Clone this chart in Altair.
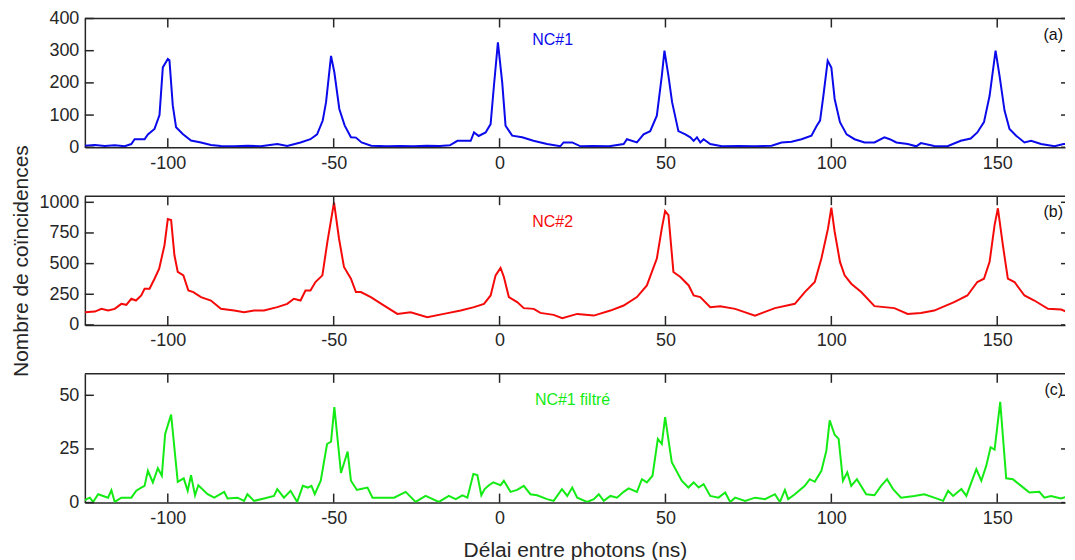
import altair as alt
import pandas as pd

# ---------------- data ----------------
x_nc1 = [-125, -122, -119, -116, -113, -111, -110, -107, -106, -104,
         -102.5, -101.5, -100, -99.5, -98.5, -97.5, -95.5, -93, -90, -87,
         -84, -80, -76, -72, -67, -64, -60, -57, -55, -53.3,
         -52.3, -50.8, -49.8, -48.3, -46.7, -44.8, -43.3, -41.6, -38.7, -34,
         -30, -26, -22, -18, -15, -12.7, -8.7, -7.7, -6.3, -4.2,
         -2.7, -1.7, -0.5, 0.8, 1.8, 3.8, 6.8, 10.2, 14.3, 18.3,
         19.3, 21.9, 24.4, 28, 33, 37.4, 38.4, 41.4, 43.4, 45.4,
         47.4, 48.9, 49.7, 50.9, 52, 53.9, 56, 57.5, 58.5, 59.5,
         60.5, 61.5, 63.5, 67, 72, 77, 82, 85, 88, 91,
         94, 95.6, 96.6, 97.6, 98.9, 100, 101, 102.6, 104.6, 107,
         110, 113, 116, 117.6, 119.6, 123, 125.6, 127, 131, 135,
         139, 142, 144, 146, 147.7, 149.5, 150.7, 152.2, 153.7, 155.7,
         158.2, 160.2, 163.2, 167.3, 170, 173, 175]
y_nc1 = [5, 7, 4, 6, 3, 10, 25, 25, 40, 57,
         100, 248, 274, 270, 130, 62, 41, 21, 15, 7,
         4, 3, 5, 3, 10, 4, 15, 25, 40, 83,
         140, 284, 233, 119, 68, 31, 30, 15, 5, 3,
         4, 3, 5, 4, 6, 20, 20, 46, 35, 46,
         72, 191, 326, 201, 67, 36, 31, 20, 10, 3,
         15, 15, 3, 4, 3, 10, 25, 15, 40, 50,
         98, 222, 300, 222, 140, 50, 40, 31, 20, 31,
         15, 25, 10, 3, 4, 3, 5, 15, 17, 25,
         36, 67, 83, 160, 269, 248, 150, 78, 40, 25,
         15, 15, 31, 25, 15, 10, 3, 13, 4, 3,
         20, 27, 46, 78, 160, 300, 222, 114, 57, 36,
         15, 20, 10, 3, 10, 10, 8]

x_nc2 = [-125, -122, -120, -118, -116, -114, -112.5, -111, -109.6, -108,
         -107, -105.5, -104, -102.6, -101, -100, -99, -98, -97, -95.3,
         -93.8, -92.3, -90, -87, -84, -80, -77, -74, -71, -67,
         -64, -62, -60, -58.5, -57, -55.5, -53.4, -51.9, -49.9, -48.4,
         -46.9, -44.8, -43.3, -41.8, -38.8, -34.8, -30.8, -26.8, -21.8, -16.8,
         -11.7, -7.7, -4.7, -2.7, -1.2, 0.3, 1.3, 2.8, 5.3, 7.3,
         10.3, 12.3, 16.3, 18.9, 23.4, 28.4, 33.4, 37.4, 41.4, 44.4,
         47.4, 48.9, 49.9, 50.9, 52.4, 54.5, 57, 58.5, 60.5, 63.5,
         66.5, 71, 77, 83, 89, 92, 95, 97, 99, 100,
         101, 102.6, 104, 106, 109, 113, 119, 123, 127, 131,
         137, 141, 144, 146, 147.7, 149.2, 150.2, 151.7, 153.2, 155.2,
         158.2, 161.2, 165.3, 169.3, 172.3, 175]
y_nc2 = [104, 109, 131, 117, 131, 172, 164, 213, 199, 240,
         295, 295, 377, 459, 650, 863, 855, 568, 432, 404,
         281, 268, 227, 199, 131, 117, 104, 117, 117, 145,
         172, 213, 199, 281, 281, 350, 404, 678, 1000, 705,
         473, 377, 268, 268, 227, 158, 90, 104, 63, 90,
         117, 145, 172, 240, 404, 464, 391, 227, 186, 137,
         131, 98, 82, 55, 90, 76, 117, 158, 227, 322,
         541, 787, 929, 896, 432, 391, 322, 240, 227, 145,
         153, 131, 76, 137, 172, 268, 350, 541, 787, 956,
         760, 514, 404, 336, 268, 153, 137, 90, 98, 117,
         186, 240, 350, 377, 514, 814, 951, 650, 377, 350,
         240, 199, 131, 126, 90, 85]

x_nc1f = [-125, -124.5, -123.5, -122.5, -121, -119.5, -118, -117, -116, -114,
          -111, -109.5, -108, -107, -106, -104.5, -103, -101.8, -100.8, -99,
          -97, -95.2, -94, -93, -91.8, -90.8, -88, -86, -83, -82,
          -79, -77, -76, -74, -71, -68, -67, -65, -63, -61,
          -59.3, -57.8, -56.7, -55.7, -53.9, -52, -50.8, -49.8, -47.8, -45.8,
          -44.8, -43, -41.8, -39.8, -38.3, -31.8, -28.3, -25.3, -22.3, -18.3,
          -15.3, -13.2, -11.2, -9.7, -7.9, -6.7, -5.5, -4.5, -3.2, -1.9,
          0.3, 1.3, 3.3, 5.3, 7.3, 9.3, 11.3, 14.3, 16.3, 18.8,
          20.4, 21.9, 23.4, 26.4, 28.4, 29.9, 31.4, 33.4, 35.4, 37.4,
          38.9, 41.4, 42.9, 44.4, 46.1, 47.7, 48.9, 49.9, 51.9, 54.9,
          56.9, 58.5, 60, 61.5, 63.5, 66, 68, 69.5, 71, 74,
          77, 80, 83, 84.5, 86, 87, 89, 92, 93.5, 95,
          97, 98.5, 99.5, 101, 102.2, 103.5, 104.8, 106, 107.7, 110.5,
          113, 115, 116.8, 118.6, 121, 125, 128, 131, 133.7, 135.2,
          136.7, 139.2, 140.7, 142.2, 143.7, 145.2, 146.7, 148, 149.2, 150.9,
          152.7, 154.7, 157.2, 159.7, 162.7, 164.2, 166.2, 169.2, 172.2, 175]
y_nc1f = [1, 1.6, 2.3, 0.3, 3.9, 3.1, 2.3, 5.8, 0.3, 2.3,
          2.3, 5.5, 7, 7.8, 14.8, 9.4, 16, 12.5, 32, 41,
          9.7, 11.3, 5.5, 12.8, 3.4, 8.1, 3.9, 2.3, 5, 1.9,
          2.3, 0.8, 3.9, 0.8, 1.9, 3.1, 6.3, 2.3, 5.5, 0.3,
          7.8, 7, 7.8, 3.9, 10.2, 27.3, 28.4, 44.5, 13.8, 23.8,
          10.2, 5.9, 6.3, 7, 2.3, 2.3, 5, 0.3, 3.1, 0.3,
          3.1, 1.6, 3.4, 2.3, 13.3, 12.8, 3.4, 6.3, 8.1, 9.4,
          8.1, 10.2, 5, 5.9, 7.8, 3.9, 3.4, 1.6, 0.8, 6.3,
          3.1, 7, 2.3, 0.3, 1.6, 3.9, 0.8, 3.1, 2.3, 5,
          6.6, 5, 10.9, 9.4, 12.5, 29.7, 27.3, 39.8, 18.8, 10.2,
          7, 9.4, 7, 8.6, 3.1, 2.3, 4.7, 0.3, 2.3, 0.8,
          2.3, 1.6, 3.9, 0.3, 5.9, 1.6, 3.9, 7.8, 10.9, 9.7,
          14.8, 24.2, 38.3, 31.6, 29.7, 10.2, 14.1, 7.8, 10.9, 3.9,
          3.4, 7.8, 10.9, 6.3, 2.3, 3.1, 3.9, 2.3, 0.8, 5.5,
          3.1, 6.3, 3.1, 9.4, 15.6, 10.2, 17.2, 25.8, 24.7, 46.9,
          11.3, 10.9, 7.8, 4.7, 5, 2.3, 3.1, 1.9, 3.4, 3]

x_ticks = [-100, -50, 0, 50, 100, 150]
y_ticks_a = [0, 100, 200, 300, 400]
y_ticks_b = [0, 250, 500, 750, 1000]
y_ticks_c = [0, 25, 50]

labels = ["NC#1", "NC#2", "NC#1 filtré"]
tags = ["(a)", "(b)", "(c)"]
x_title = "Délai entre photons (ns)"
y_title = "Nombre de coïncidences"

assert len(x_nc1) == len(y_nc1)
assert len(x_nc2) == len(y_nc2)
assert len(x_nc1f) == len(y_nc1f)

# ---------------- layout / style ----------------
PX_PER_NS = 3.324
W, H = 982, 129
X_MIN = -125
X_MAX = X_MIN + W / PX_PER_NS
FRAME = "#262626"
FONT = "Liberation Sans"
TICK = 9
LABEL_EXPR = "'' + datum.value"


def panel(xs, ys, color, ymax, yticks, label, label_x, label_y, tag, tag_y,
          xtitle=False, ytitle=False):
    df = pd.DataFrame({"x": xs, "y": ys})
    xscale = alt.Scale(domain=[X_MIN, X_MAX], nice=False, zero=False)
    yscale = alt.Scale(domain=[0, ymax], nice=False, zero=True)

    xaxis_kw = dict(values=x_ticks, ticks=False, grid=False, domain=True,
                    domainColor=FRAME, domainWidth=1.5, labelFontSize=18,
                    labelPadding=7, labelFont=FONT, labelColor=FRAME,
                    labelFlush=False, labelExpr=LABEL_EXPR,
                    titleFontSize=21, titleFont=FONT,
                    titleFontWeight="normal", titleColor=FRAME,
                    titlePadding=12)
    yaxis_kw = dict(values=yticks, ticks=False, grid=False, domain=True,
                    domainColor=FRAME, domainWidth=1.5, labelFontSize=18,
                    labelPadding=6, labelFont=FONT, labelColor=FRAME,
                    labelFlush=False, labelExpr=LABEL_EXPR,
                    titleFontSize=21, titleFont=FONT,
                    titleFontWeight="normal", titleColor=FRAME,
                    titlePadding=7)
    xaxis = alt.Axis(**xaxis_kw)
    yaxis = alt.Axis(**yaxis_kw)
    xt_title = x_title if xtitle else None
    yt_title = y_title if ytitle else None

    def X():
        return alt.X("x:Q", scale=xscale, axis=xaxis, title=xt_title)

    def Y():
        return alt.Y("y:Q", scale=yscale, axis=yaxis, title=yt_title)

    line = alt.Chart(df).mark_line(color=color, strokeWidth=2, clip=True).encode(
        x=X(), y=Y())

    xt = pd.DataFrame({"x": x_ticks})
    yt = pd.DataFrame({"y": yticks})
    tick_bottom = alt.Chart(xt).mark_rule(color=FRAME, strokeWidth=1.5).encode(
        x=X(), y=alt.value(H), y2=alt.value(H - TICK))
    tick_top = alt.Chart(xt).mark_rule(color=FRAME, strokeWidth=1.5).encode(
        x=X(), y=alt.value(0), y2=alt.value(TICK))
    tick_left = alt.Chart(yt).mark_rule(color=FRAME, strokeWidth=1.5).encode(
        y=Y(), x=alt.value(0), x2=alt.value(TICK))
    tick_right = alt.Chart(yt).mark_rule(color=FRAME, strokeWidth=1.5).encode(
        y=Y(), x=alt.value(W - 4), x2=alt.value(W))
    top_frame = alt.Chart(pd.DataFrame({"f": [0]})).mark_rule(
        color=FRAME, strokeWidth=1.5).encode(
        x=alt.value(0), x2=alt.value(W), y=alt.value(0))

    lab = alt.Chart(pd.DataFrame({"x": [label_x], "y": [label_y], "t": [label]})).mark_text(
        color=color, fontSize=16, font=FONT, align="center", baseline="middle").encode(
        x=X(), y=Y(), text="t:N")
    tg = alt.Chart(pd.DataFrame({"x": [X_MAX - 0.6], "y": [tag_y], "t": [tag]})).mark_text(
        color="#111111", fontSize=16, font=FONT, align="right", baseline="middle").encode(
        x=X(), y=Y(), text="t:N")

    return alt.layer(line, top_frame, tick_bottom, tick_top, tick_left,
                     tick_right, lab, tg).properties(width=W, height=H)


pa = panel(x_nc1, y_nc1, "#0a0aeb", 400, y_ticks_a, labels[0], 16, 333, tags[0], 350)
pb = panel(x_nc2, y_nc2, "#f50a0a", 1050, y_ticks_b, labels[1], 16, 837, tags[1], 918,
           ytitle=True)
pc = panel(x_nc1f, y_nc1f, "#14eb14", 60, y_ticks_c, labels[2], 22, 48, tags[2], 52.6,
           xtitle=True)

chart = alt.vconcat(pa, pb, pc, spacing=49, bounds="flush").properties(
    padding={"left": 2, "top": 0, "right": 0, "bottom": 0}
).configure_view(stroke="transparent")

chart.save("out.html", embed_options={"renderer": "svg", "actions": False})
